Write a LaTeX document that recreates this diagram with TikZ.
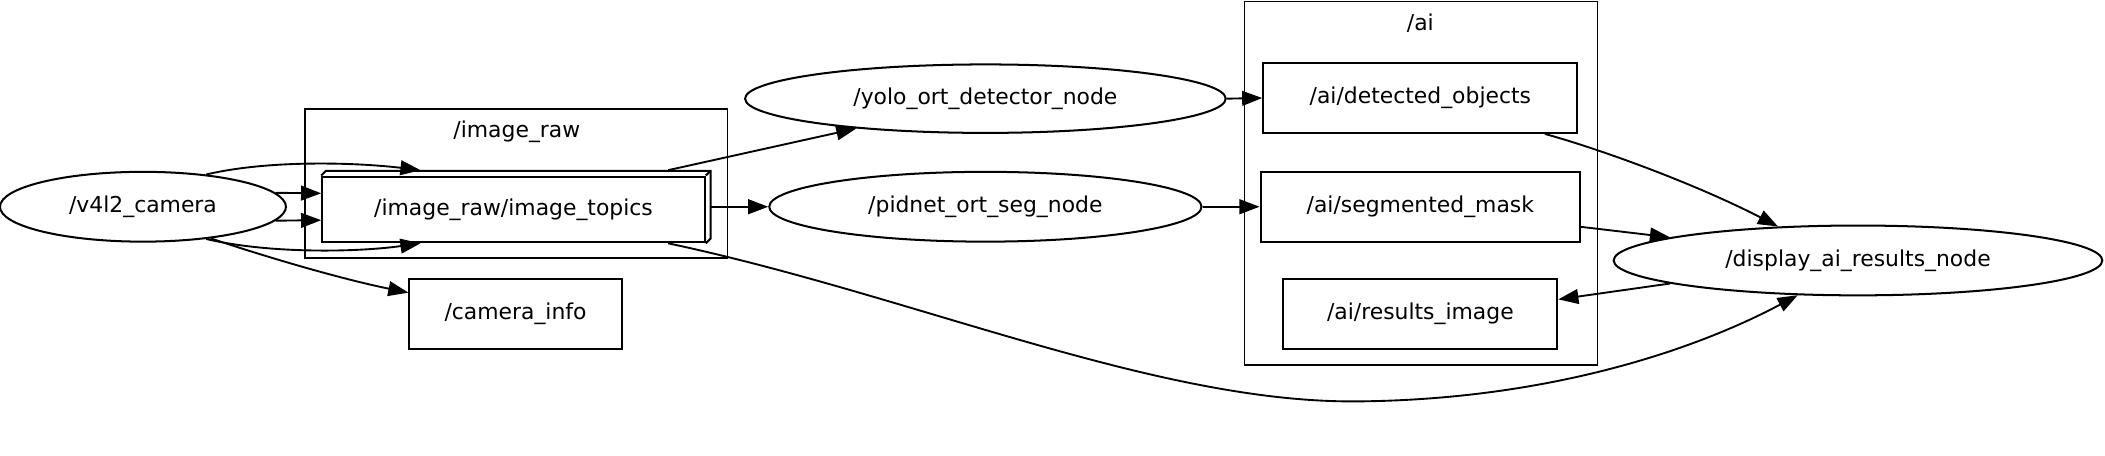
\documentclass[tikz,border=0pt]{standalone}
\usepackage{fontspec}
\setmainfont{DejaVu Sans}
\usetikzlibrary{shapes.geometric,arrows.meta,calc}
\begin{document}
\begin{tikzpicture}[x=1pt,y=-1pt,
  every node/.style={font=\fontsize{16.3}{19}\selectfont, inner sep=0pt, line width=1.5pt},
  topic/.style={draw, rectangle, minimum height=52pt},
  rosnode/.style={draw, ellipse, minimum height=52pt},
  cluster/.style={draw, rectangle, line width=1.2pt},
  edge/.style={line width=1.4pt, -{Triangle[length=15pt,width=11pt]}}]
\useasboundingbox (0,0) rectangle (1568,339);

% clusters
\node[cluster, minimum width=315pt, minimum height=111pt] (clraw) at (384.5,136.5) {};
\node (clrawlabel) at (385,98) {/image\_raw};
\node[cluster, minimum width=263pt, minimum height=271pt] (clai) at (1058.5,136.5) {};
\node (clailabel) at (1058,17) {/ai};

% nodes
\node[rosnode, minimum width=213pt] (v4l2) at (106.5,154) {/v4l2\_camera};
\node[topic, minimum width=285pt, minimum height=49pt] (topics) at (382.5,156) {/image\_raw/image\_topics};
\draw[line width=1.5pt] (topics.north west) -- ++(3.5,-3.5) -- ($(topics.north east)+(3.5,-3.5)$) -- ($(topics.south east)+(3.5,-3.5)$) -- (topics.south east);
\draw[line width=1.5pt] (topics.north east) -- ++(3.5,-3.5);
\node[topic, minimum width=158pt] (caminfo) at (384,234) {/camera\_info};
\node[rosnode, minimum width=358pt, minimum height=51pt] (yolo) at (734,73.5) {/yolo\_ort\_detector\_node};
\node[rosnode, minimum width=322pt] (pidnet) at (734,154) {/pidnet\_ort\_seg\_node};
\node[topic, minimum width=234pt] (det) at (1058,73) {/ai/detected\_objects};
\node[topic, minimum width=238pt] (seg) at (1058,154) {/ai/segmented\_mask};
\node[topic, minimum width=204pt] (results) at (1058,234) {/ai/results\_image};
\node[rosnode, minimum width=364pt] (display) at (1384,194) {/display\_ai\_results\_node};

\coordinate (dip) at (1010,299);

% edges
\draw[edge] (v4l2.6) -- ($(topics.west)+(0,-12)$);
\draw[edge] (v4l2.-6) -- ($(topics.west)+(0,8)$);
\draw[edge] (v4l2.27) .. controls (200,119) and (265,121) .. ($(topics.north west)+(74,-4)$);
\draw[edge] (v4l2.-27) .. controls (200,189) and (265,188) .. ($(topics.south west)+(74,0)$);
\draw[edge] (v4l2.-25) .. controls (200,192) and (255,208) .. ($(caminfo.west)+(0,-16)$);
\draw[edge] ($(topics.north east)+(-28,-4)$) -- (yolo.193);
\draw[edge] ($(topics.east)+(3.5,-2)$) -- (pidnet.west);
\draw[edge] ($(topics.south east)+(-28,0)$) .. controls (680,220) and (860,300) .. (dip)
  .. controls (1150,298) and (1260,262) .. (display.-150);
\draw[edge] (yolo.east) -- (det.west);
\draw[edge] (pidnet.east) -- (seg.west);
\draw[edge] ($(det.south east)+(-25,0)$) .. controls (1195,112) and (1265,138) .. (display.157);
\draw[edge] ($(seg.east)+(0,15)$) -- (display.173);
\draw[edge] (display.187) -- ($(results.east)+(0,-11)$);
\end{tikzpicture}
\end{document}
